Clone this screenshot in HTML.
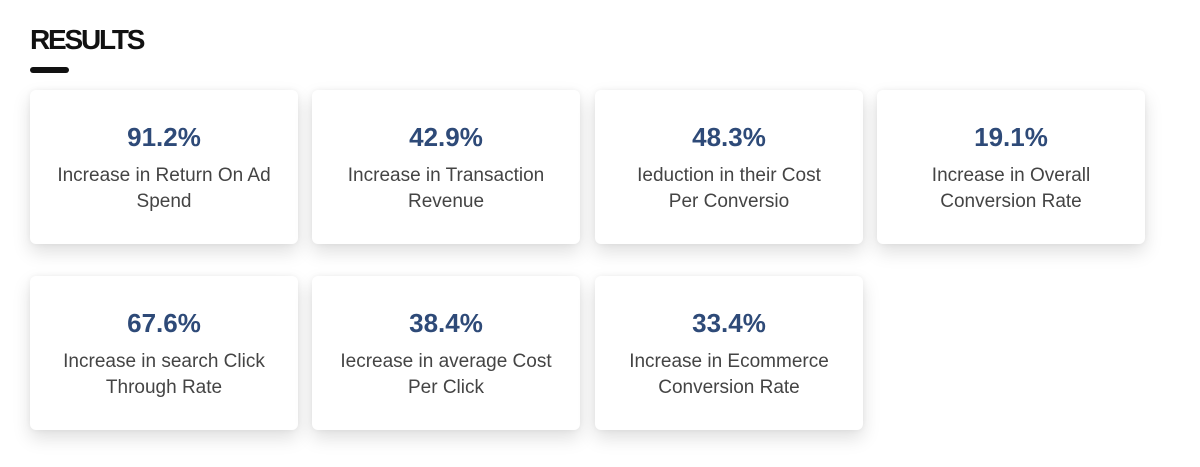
<!DOCTYPE html>
<html><head><style>
body{margin:0;width:1200px;height:467px;background:#fff;font-family:"Liberation Sans",sans-serif;position:relative;overflow:hidden}
h1{position:absolute;left:30px;top:22px;margin:0;font-size:28px;font-weight:bold;letter-spacing:-2.2px;color:#111;line-height:36px}
.bar{position:absolute;left:30px;top:67px;width:39px;height:6px;border-radius:3px;background:#111}
.card{position:absolute;width:268px;height:154px;background:#fff;border-radius:6px;box-shadow:0 8px 18px rgba(0,0,0,0.13),0 0 6px rgba(0,0,0,0.05);text-align:center}
.n{position:absolute;left:0;right:0;top:32px;font-size:26px;font-weight:bold;color:#2e4a78;line-height:30px}
.t{position:absolute;left:4px;right:4px;top:73px;font-size:19px;color:#444;line-height:26px}
</style></head><body>
<h1>RESULTS</h1><div class="bar"></div>
<div class="card" style="left:30px;top:90px"><div class="n">91.2%</div><div class="t">Increase in Return On Ad<br>Spend</div></div>
<div class="card" style="left:312px;top:90px"><div class="n">42.9%</div><div class="t">Increase in Transaction<br>Revenue</div></div>
<div class="card" style="left:595px;top:90px"><div class="n">48.3%</div><div class="t">Ieduction in their Cost<br>Per Conversio</div></div>
<div class="card" style="left:877px;top:90px"><div class="n">19.1%</div><div class="t">Increase in Overall<br>Conversion Rate</div></div>
<div class="card" style="left:30px;top:276px"><div class="n">67.6%</div><div class="t">Increase in search Click<br>Through Rate</div></div>
<div class="card" style="left:312px;top:276px"><div class="n">38.4%</div><div class="t">Iecrease in average Cost<br>Per Click</div></div>
<div class="card" style="left:595px;top:276px"><div class="n">33.4%</div><div class="t">Increase in Ecommerce<br>Conversion Rate</div></div>
</body></html>
